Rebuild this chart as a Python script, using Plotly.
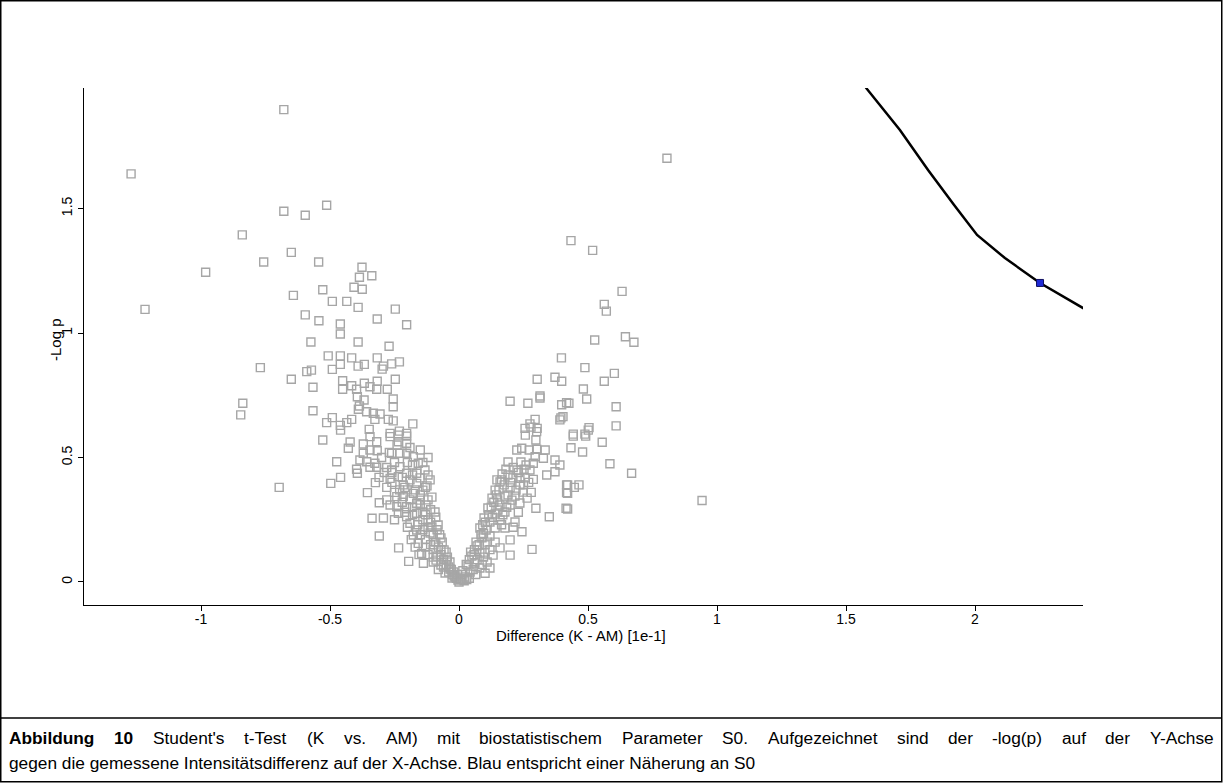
import plotly.graph_objects as go

# ---- scatter data: difference (x) and -log p (y) ----
diff_a = [-1.271,-0.679,0.806,-0.679,-0.596,-0.513,-0.840,-0.650,-0.757,-0.982,
          -0.544,-1.217,-0.770,-0.838,-0.846,-0.376,-0.386,-0.338,-0.407,-0.375,
          -0.642,-0.528,-0.491,-0.435,-0.391,-0.247,-0.596,-0.543,-0.460,-0.460,
          -0.317,-0.203,-0.574,-0.391,-0.271,-0.507,-0.460,-0.416,-0.460,-0.391,
          -0.367,-0.317,-0.293,-0.261,-0.231,-0.298,-0.590,-0.572,-0.491,-0.650,
          -0.566,-0.451,-0.416,-0.451,-0.367,-0.317,-0.247,-0.397,-0.345,-0.319,
          -0.278,-0.394,-0.368,-0.255,-0.386,-0.255,-0.566,-0.358,-0.332,-0.306,
          -0.390,-0.491,-0.513,-0.416,-0.435,-0.460,-0.326,-0.274,-0.255,-0.179,
          -0.348,-0.231,-0.203,-0.267,-0.528,-0.459,-0.422,-0.429,-0.371,-0.345,
          -0.319,-0.371,-0.345,-0.317,-0.384,-0.358,-0.326,-0.397,-0.394,-0.345,
          -0.319,-0.474,-0.459,-0.497,-0.697,-0.324,-0.355,-0.280,-0.309,-0.337,
          -0.293,-0.309,-0.234,-0.195]
logp_a = [1.639,1.897,1.702,1.489,1.473,1.513,1.394,1.324,1.285,1.244,
          1.285,1.095,0.861,0.718,0.671,1.264,1.224,1.230,1.184,1.176,
          1.151,1.174,1.127,1.127,1.103,1.096,1.073,1.049,1.036,0.996,
          1.056,1.033,0.964,0.964,0.947,0.908,0.908,0.900,0.874,0.867,
          0.874,0.900,0.867,0.876,0.884,0.855,0.845,0.851,0.854,0.814,
          0.782,0.808,0.788,0.774,0.798,0.806,0.814,0.774,0.784,0.774,
          0.774,0.744,0.731,0.735,0.707,0.704,0.688,0.684,0.678,0.675,
          0.694,0.660,0.640,0.653,0.640,0.629,0.653,0.653,0.647,0.635,
          0.613,0.606,0.597,0.597,0.570,0.610,0.562,0.537,0.554,0.584,
          0.563,0.517,0.530,0.527,0.490,0.483,0.477,0.453,0.437,0.461,
          0.461,0.483,0.420,0.396,0.380,0.399,0.359,0.380,0.318,0.256,
          0.257,0.185,0.137,0.083]

diff_b = [-0.267,-0.235,-0.203,-0.235,-0.203,-0.261,-0.229,-0.203,-0.177,-0.158,
          -0.261,-0.229,-0.203,-0.164,-0.235,-0.267,-0.164,-0.216,-0.177,-0.241,
          -0.216,-0.267,-0.241,-0.203,-0.164,-0.235,-0.203,-0.164,-0.190,-0.164,
          -0.177,-0.158,-0.145,-0.138,-0.132,-0.112,-0.140,-0.105,-0.128,-0.093,
          -0.120,-0.081,-0.112,-0.070,-0.097,-0.058,-0.085,-0.047,-0.070,-0.035,
          -0.054,-0.019,-0.004,0.012,0.000,-0.027,-0.151,-0.124,-0.151,-0.140,
          -0.105,-0.089,-0.190,-0.150,-0.120,-0.180,-0.140,-0.250,-0.190,-0.230,
          -0.200,-0.120,-0.150,-0.180,-0.140,-0.120,-0.150,-0.130,-0.100,-0.120,
          -0.070,-0.100,-0.060,-0.040,-0.080,-0.025,-0.010,-0.210,-0.250,-0.280,
          -0.290,-0.270,-0.300]
logp_b = [0.584,0.590,0.586,0.563,0.557,0.517,0.517,0.517,0.503,0.477,
          0.450,0.463,0.437,0.437,0.423,0.416,0.396,0.390,0.356,0.343,
          0.343,0.309,0.302,0.302,0.316,0.276,0.262,0.276,0.236,0.209,
          0.189,0.155,0.115,0.075,0.450,0.410,0.369,0.341,0.309,0.281,
          0.249,0.229,0.197,0.177,0.149,0.129,0.104,0.088,0.068,0.052,
          0.036,0.024,0.008,0.012,0.000,0.016,0.418,0.386,0.329,0.281,
          0.221,0.088,0.540,0.530,0.500,0.470,0.480,0.480,0.410,0.370,
          0.370,0.430,0.350,0.300,0.250,0.220,0.190,0.170,0.130,0.110,
          0.110,0.080,0.060,0.040,0.050,0.030,0.015,0.280,0.250,0.330,
          0.440,0.520,0.500]

diff_e = [-0.28,-0.26,-0.25,-0.22,-0.20,-0.18,-0.17,-0.15,-0.13,-0.11,
          -0.10,-0.09,-0.08,-0.07,-0.06,-0.05,-0.04,-0.03,-0.02,-0.015,
          -0.18,-0.16,-0.14,-0.13,-0.11,-0.10,-0.22,-0.21,-0.19,-0.24,
          -0.26,-0.31,-0.20,-0.185,-0.17,-0.155,-0.13,-0.12,-0.11,-0.09,
          -0.085,-0.075,-0.065,-0.05,-0.045,-0.035]
logp_e = [0.46,0.40,0.36,0.32,0.48,0.43,0.37,0.31,0.27,0.24,
          0.19,0.16,0.14,0.13,0.09,0.07,0.06,0.05,0.04,0.02,
          0.27,0.23,0.21,0.14,0.15,0.10,0.42,0.38,0.33,0.55,
          0.44,0.42,0.22,0.17,0.14,0.11,0.38,0.33,0.29,0.26,
          0.21,0.19,0.16,0.12,0.10,0.08]

diff_c = [0.023,0.043,0.035,0.062,0.050,0.081,0.070,0.101,0.089,0.120,
          0.105,0.140,0.081,0.120,0.159,0.097,0.140,0.178,0.112,0.159,
          0.198,0.128,0.178,0.217,0.140,0.198,0.236,0.159,0.209,0.256,
          0.167,0.225,0.275,0.190,0.240,0.182,0.252,0.236,0.288,0.147,
          0.221,0.248,0.205,0.236,0.264,0.151,0.217,0.178,0.198,0.159,
          0.132,0.109,0.081,0.120,0.010,0.030,0.055,0.070,0.095,0.060,
          0.110,0.095,0.130,0.165,0.150,0.190,0.175]
logp_c = [0.020,0.040,0.064,0.076,0.104,0.116,0.145,0.149,0.177,0.185,
          0.209,0.217,0.217,0.241,0.249,0.257,0.273,0.281,0.297,0.309,
          0.309,0.337,0.345,0.345,0.369,0.378,0.390,0.402,0.418,0.418,
          0.434,0.450,0.450,0.482,0.482,0.453,0.453,0.416,0.412,0.410,
          0.369,0.361,0.329,0.317,0.337,0.289,0.241,0.217,0.169,0.137,
          0.108,0.080,0.056,0.056,0.030,0.010,0.050,0.090,0.100,0.130,
          0.160,0.195,0.260,0.230,0.330,0.350,0.390]

diff_f = [0.015,0.028,0.04,0.045,0.058,0.066,0.078,0.085,0.092,0.102,
          0.115,0.125,0.135,0.145,0.155,0.165,0.17,0.185,0.19,0.20,
          0.21,0.23,0.25,0.26,0.27,0.28,0.23,0.21,0.14,0.12,
          0.10,0.09,0.065,0.04,0.02,-0.005,0.005]
logp_f = [0.045,0.07,0.09,0.12,0.11,0.16,0.15,0.19,0.23,0.24,
          0.27,0.30,0.32,0.35,0.37,0.41,0.27,0.30,0.43,0.40,
          0.46,0.44,0.39,0.47,0.40,0.36,0.28,0.22,0.16,0.13,
          0.12,0.07,0.03,0.015,0.005,0.03,0.01]

diff_d = [0.257,0.301,0.298,0.224,0.243,0.272,0.301,0.334,0.327,0.295,
          0.288,0.372,0.391,0.372,0.340,0.417,0.417,0.415,0.298,0.350,
          0.244,0.283,0.198,0.101,0.397,0.303,0.372,0.398,0.198,0.267,
          0.314,0.314,0.398,0.417,0.391,0.395,0.295,0.275,0.256,0.303,
          0.279,0.434,0.518,0.632,0.563,0.571,0.526,0.645,0.678,0.488,
          0.602,0.563,0.482,0.495,0.426,0.609,0.609,0.504,0.488,0.443,
          0.403,0.443,0.491,0.501,0.555,0.434,0.479,0.585,0.669,0.421,
          0.447,0.465,0.421,0.421,0.942]
logp_d = [0.590,0.604,0.570,0.530,0.537,0.530,0.533,0.530,0.497,0.503,
          0.477,0.490,0.470,0.443,0.430,0.390,0.359,0.296,0.296,0.262,
          0.202,0.131,0.108,0.035,0.900,0.814,0.822,0.806,0.726,0.718,
          0.747,0.739,0.712,0.720,0.651,0.659,0.653,0.635,0.617,0.617,
          0.622,1.371,1.332,1.167,1.115,1.088,0.972,0.985,0.963,0.861,
          0.838,0.806,0.775,0.735,0.718,0.704,0.627,0.620,0.594,0.594,
          0.664,0.586,0.586,0.610,0.561,0.539,0.522,0.475,0.437,0.390,
          0.380,0.390,0.356,0.293,0.327]

# ---- S0 threshold curve and the highlighted point ----
s0_curve_x = [1.55, 1.578, 1.709, 1.818, 1.919, 2.008, 2.116, 2.252, 2.419, 2.45]
s0_curve_y = [2.08, 1.984, 1.815, 1.655, 1.514, 1.394, 1.301, 1.201, 1.100, 1.081]
s0_point_x = [2.252]
s0_point_y = [1.201]

x_ticks = [-1, -0.5, 0, 0.5, 1, 1.5, 2]
y_ticks = [0, 0.5, 1, 1.5]

x_title = "Difference (K - AM) [1e-1]"
y_title = "-Log p"
caption_bold = "Abbildung 10"
caption_line1 = ("Student's t-Test (K vs. AM) mit biostatistischem Parameter S0. "
                 "Aufgezeichnet sind der -log(p) auf der Y-Achse")
caption_line2 = ("gegen die gemessene Intensitätsdifferenz auf der X-Achse. "
                 "Blau entspricht einer Näherung an S0")

diff_all = diff_a + diff_b + diff_e + diff_c + diff_f + diff_d
logp_all = logp_a + logp_b + logp_e + logp_c + logp_f + logp_d

FONT = "Liberation Sans, Arial, sans-serif"

fig = go.Figure()
fig.add_trace(go.Scatter(
    x=diff_all, y=logp_all, mode="markers",
    marker=dict(symbol="square-open", size=8, color="#a6a6a6",
                line=dict(width=1.4, color="#a6a6a6")),
    hoverinfo="skip", showlegend=False))
fig.add_trace(go.Scatter(
    x=s0_curve_x, y=s0_curve_y, mode="lines",
    line=dict(color="black", width=2.5), showlegend=False, hoverinfo="skip"))
fig.add_trace(go.Scatter(
    x=s0_point_x, y=s0_point_y, mode="markers",
    marker=dict(symbol="square", size=7, color="#1f2ad6",
                line=dict(width=1, color="#101060")),
    showlegend=False, hoverinfo="skip", cliponaxis=False))

W, H = 1223, 783
L, R, T, B = 84, 140, 88, 178
pw, ph = W - L - R, H - T - B


def px_x(p):
    return (p - L) / pw


def px_y(p):
    return (H - B - p) / ph


# Arial / Liberation Sans advance widths (per 1000 em) for justified caption layout
REG = {' ': 278, "'": 191, '(': 333, ')': 333, '-': 333, '.': 278, 'A': 667, 'K': 667,
       'M': 833, 'P': 667, 'S': 667, 'T': 611, 'Y': 667, 'X': 667, 'B': 667}
for ch in '0123456789':
    REG[ch] = 556
REG.update({c: 556 for c in 'abdeghnopqu'})
REG.update({'c': 500, 'f': 278, 'i': 222, 'j': 222, 'k': 500, 'l': 222, 'm': 833,
            'r': 333, 's': 500, 't': 278, 'v': 500, 'w': 722, 'x': 500, 'y': 500,
            'z': 500, 'ä': 556, 'ö': 556, 'ü': 556, 'ß': 611})
BOLD = {'A': 722, 'b': 611, 'i': 278, 'l': 278, 'd': 611, 'u': 611, 'n': 611,
        'g': 611, '1': 556, '0': 556}


def text_width(word, size, bold=False):
    table = BOLD if bold else REG
    return sum(table.get(c, 556) for c in word) * size / 1000.0


CAP_SIZE = 17.3
cap_font = dict(size=CAP_SIZE, family=FONT, color="black")
words = [(w, True) for w in caption_bold.split(" ")] + \
        [(w, False) for w in caption_line1.split(" ")]
left_px, right_px = 8, 1214
natural = sum(text_width(w, CAP_SIZE, b) for w, b in words)
gap = (right_px - left_px - natural) / (len(words) - 1)

annotations = []
xpos = left_px
for w, b in words:
    annotations.append(dict(
        text=f"<b>{w}</b>" if b else w, xref="paper", yref="paper",
        x=px_x(xpos), y=px_y(738), xanchor="left", yanchor="middle",
        showarrow=False, font=cap_font, borderpad=0))
    xpos += text_width(w, CAP_SIZE, b) + gap

annotations.append(dict(
    text=caption_line2, xref="paper", yref="paper", x=px_x(left_px), y=px_y(763),
    xanchor="left", yanchor="middle", showarrow=False, font=cap_font, borderpad=0))
annotations.append(dict(
    text=x_title, xref="paper", yref="paper", x=0.497, y=px_y(635),
    xanchor="center", yanchor="middle", showarrow=False,
    font=dict(size=15, family=FONT, color="black")))
annotations.append(dict(
    text=y_title, xref="paper", yref="paper", x=px_x(55), y=px_y(340),
    xanchor="center", yanchor="middle", showarrow=False, textangle=-90,
    font=dict(size=15, family=FONT, color="black")))

fig.update_layout(
    width=W, height=H,
    margin=dict(l=L, r=R, t=T, b=B, pad=0),
    paper_bgcolor="white", plot_bgcolor="white",
    font=dict(family=FONT, color="black"),
    xaxis=dict(range=[-1.4535, 2.4186], tickvals=x_ticks,
               ticktext=[str(v) for v in x_ticks],
               showgrid=False, zeroline=False, showline=True,
               linecolor="black", linewidth=1, ticks="outside", ticklen=5,
               tickcolor="black", tickfont=dict(size=14, family=FONT),
               ticklabelstandoff=-4),
    yaxis=dict(range=[-0.0924, 1.984], tickvals=y_ticks,
               ticktext=[str(v) for v in y_ticks],
               showgrid=False, zeroline=False, showline=True,
               linecolor="black", linewidth=1, ticks="outside", ticklen=5,
               tickcolor="black", tickangle=-90, tickfont=dict(size=14, family=FONT)),
    shapes=[
        dict(type="rect", xref="paper", yref="paper",
             x0=px_x(0.75), x1=px_x(W - 1.25), y0=px_y(H - 1.25), y1=px_y(0.75),
             line=dict(color="black", width=1.5), fillcolor="rgba(0,0,0,0)"),
        dict(type="line", xref="paper", yref="paper",
             x0=px_x(0.75), x1=px_x(W - 1.25), y0=px_y(718), y1=px_y(718),
             line=dict(color="black", width=1.5)),
    ],
    annotations=annotations,
)

fig.write_html("out.html", config={"displayModeBar": False},
               post_script="document.body.style.margin='0';")
